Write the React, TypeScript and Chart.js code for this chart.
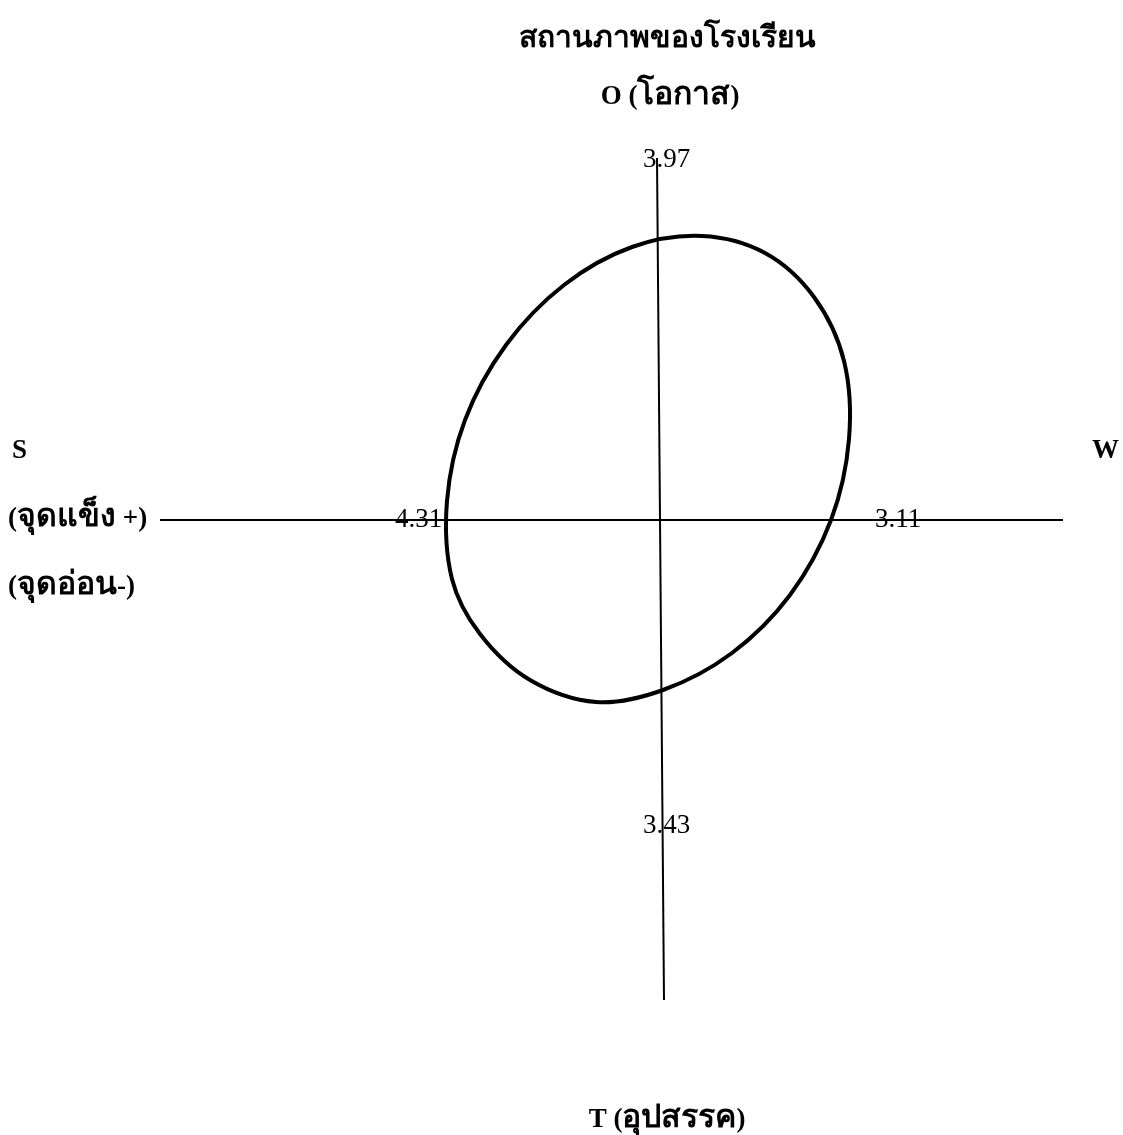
import React, { useEffect, useRef } from "react";
import { Chart, registerables } from "chart.js";

Chart.register(...registerables);

// ---- data (drawing units: origin at the axes crossing, y up) ----
const titleText = "สถานภาพของโรงเรียน";
const axisNames = ["S", "W", "O (โอกาส)", "T (อุปสรรค)"];
const sideNotes = ["(จุดแข็ง +)", "(จุดอ่อน-)"];
const valueLabels = ["4.31", "3.11", "3.97", "3.43"];

const hAxisX = [-500, 403];
const hAxisY = [0, 0];
const vAxisX = [-3, 4];
const vAxisY = [362, -480];

const ellipseX = [105, 42, -28, -96, -154, -195, -213, -208, -180, -130, -64, 3, 72, 130, 171, 189, 184, 154];
const ellipseY = [267, 284, 273, 235, 175, 100, 19, -59, -114, -160, -182, -170, -133, -75, 0, 81, 159, 223];

const SERIF = "'Liberation Serif', 'Times New Roman', serif";

const isThai = (ch: string) => {
  const c = ch.charCodeAt(0);
  return c >= 0x0e00 && c <= 0x0e7f;
};

export default function App() {
  const ref = useRef<HTMLCanvasElement | null>(null);

  useEffect(() => {
    if (!ref.current) return;
    const pts = ellipseX.map((x, i) => ({ x, y: ellipseY[i] }));
    const loop = [pts[pts.length - 1], ...pts, pts[0], pts[1]];
    const n = loop.length;

    const textPlugin = {
      id: "swotText",
      afterDraw(chart: any) {
        const ctx = chart.ctx;
        const sx = chart.scales.x;
        const sy = chart.scales.y;
        ctx.save();
        ctx.fillStyle = "#000";
        ctx.textBaseline = "alphabetic";
        ctx.textAlign = "left";

        // text split in runs: Latin and Thai can use different sizes
        const put = (
          t: string,
          x: number,
          y: number,
          align: "left" | "center",
          latinFont: string,
          thaiFont: string
        ) => {
          const runs: { s: string; f: string }[] = [];
          for (const ch of t) {
            const f = isThai(ch) ? thaiFont : latinFont;
            const last = runs[runs.length - 1];
            if (last && last.f === f) last.s += ch;
            else runs.push({ s: ch, f });
          }
          let total = 0;
          const widths = runs.map((r) => {
            ctx.font = r.f;
            const w = ctx.measureText(r.s).width;
            total += w;
            return w;
          });
          let px = sx.getPixelForValue(x);
          const py = sy.getPixelForValue(y);
          if (align === "center") px -= total / 2;
          runs.forEach((r, i) => {
            ctx.font = r.f;
            ctx.fillText(r.s, px, py);
            px += widths[i];
          });
        };

        const boldL = `bold 27px ${SERIF}`;
        const boldT = `bold 32px ${SERIF}`;
        const reg = `27px ${SERIF}`;
        put(titleText, 7, 473, "center", boldL, `bold 30px ${SERIF}`);
        put(axisNames[2], 10, 416, "center", boldL, boldT);
        put(axisNames[3], 7, -607, "center", boldL, boldT);
        put(axisNames[0], -648, 62, "left", boldL, boldT);
        put(axisNames[1], 432, 62, "left", boldL, boldT);
        put(sideNotes[0], -652, -6, "left", boldL, boldT);
        put(sideNotes[1], -652, -74, "left", boldL, boldT);
        put(valueLabels[0], -265, -7, "left", reg, reg);
        put(valueLabels[1], 215, -7, "left", reg, reg);
        put(valueLabels[2], -17, 353, "left", reg, reg);
        put(valueLabels[3], -17, -313, "left", reg, reg);
        ctx.restore();
      },
    };

    const chart = new Chart(ref.current, {
      type: "scatter",
      data: {
        datasets: [
          {
            data: hAxisX.map((x, i) => ({ x, y: hAxisY[i] })),
            showLine: true,
            borderColor: "#000",
            borderWidth: 2,
            pointRadius: 0,
          },
          {
            data: vAxisX.map((x, i) => ({ x, y: vAxisY[i] })),
            showLine: true,
            borderColor: "#000",
            borderWidth: 2,
            pointRadius: 0,
          },
          {
            data: loop,
            showLine: true,
            borderColor: "#000",
            borderWidth: 4,
            pointRadius: 0,
            tension: 0.34,
            segment: {
              borderColor: (c: any) =>
                c.p0DataIndex === 0 || c.p1DataIndex === n - 1 ? "rgba(0,0,0,0)" : undefined,
            },
          } as any,
        ],
      },
      options: {
        animation: false,
        responsive: true,
        maintainAspectRatio: false,
        layout: { padding: 0 },
        plugins: { legend: { display: false }, tooltip: { enabled: false } },
        scales: {
          x: { type: "linear", display: false, min: -660, max: 463 },
          y: { type: "linear", display: false, min: -615, max: 520 },
        },
      },
      plugins: [textPlugin],
    });
    return () => chart.destroy();
  }, []);

  return (
    <div style={{ position: "fixed", left: 0, top: 0, width: 1123, height: 1135, background: "#fff" }}>
      <canvas ref={ref} />
    </div>
  );
}
